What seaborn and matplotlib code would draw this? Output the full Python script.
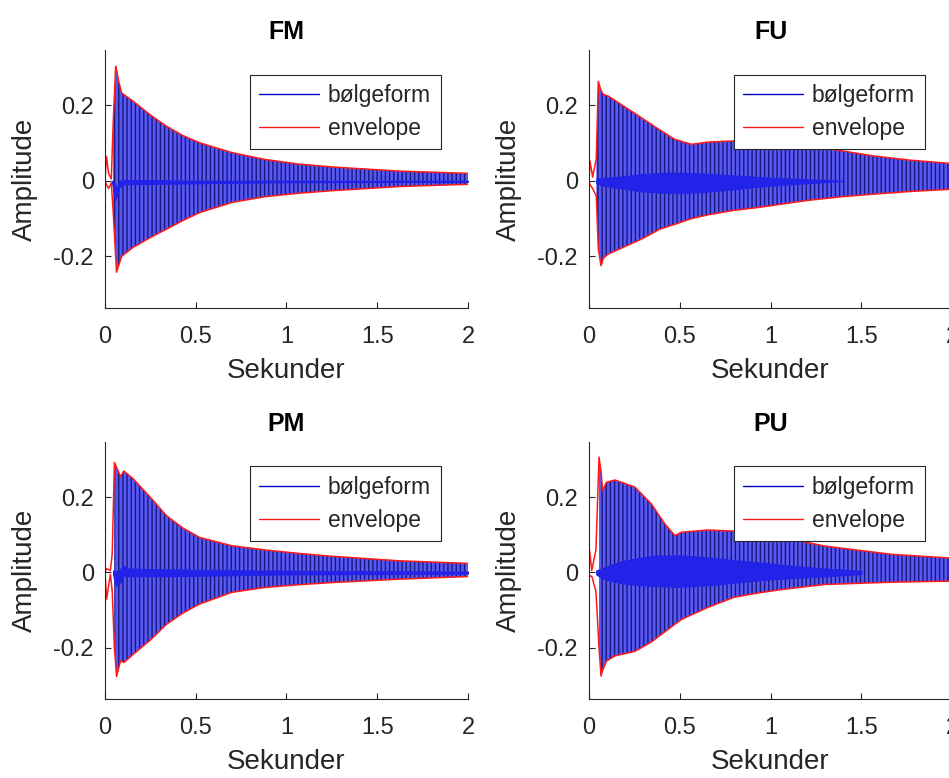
import numpy as np
import seaborn as sns
import matplotlib
matplotlib.use('Agg')
import matplotlib.pyplot as plt
from matplotlib.lines import Line2D

# envelope keypoints (seconds, amplitude)
fm_t     = [0.000, 0.008, 0.020, 0.035, 0.045, 0.059, 0.064, 0.075, 0.092, 0.156, 0.250, 0.339, 0.430, 0.522, 0.700, 0.880, 1.060, 1.250, 1.620, 2.000]
fm_upper = [0.000, 0.065, 0.020, 0.005, 0.150, 0.304, 0.295, 0.265, 0.233, 0.211, 0.175, 0.145, 0.120, 0.101, 0.075, 0.057, 0.045, 0.037, 0.026, 0.020]
fm_lower = [0.000, -0.010, -0.020, -0.005, -0.080, -0.200, -0.242, -0.225, -0.200, -0.176, -0.150, -0.128, -0.105, -0.084, -0.057, -0.042, -0.033, -0.026, -0.015, -0.009]
fm_core_t  = [0.040, 0.055, 0.065, 0.080, 0.100, 0.200, 0.500, 1.000, 2.000]
fm_core_hi = [0.000, -0.010, -0.020, 0.000, 0.002, 0.002, 0.000, 0.000, 0.000]
fm_core_lo = [-0.005, -0.050, -0.040, -0.015, -0.008, -0.008, -0.006, -0.003, -0.002]

fu_t     = [0.000, 0.005, 0.020, 0.040, 0.051, 0.066, 0.079, 0.106, 0.290, 0.390, 0.473, 0.564, 0.655, 0.800, 0.940, 1.200, 1.390, 1.570, 1.770, 2.000]
fu_upper = [0.000, 0.053, 0.010, 0.060, 0.264, 0.240, 0.229, 0.225, 0.167, 0.135, 0.110, 0.097, 0.103, 0.106, 0.100, 0.092, 0.080, 0.066, 0.055, 0.046]
fu_lower = [0.000, -0.010, -0.020, -0.040, -0.180, -0.225, -0.205, -0.194, -0.154, -0.128, -0.115, -0.100, -0.090, -0.078, -0.070, -0.052, -0.042, -0.035, -0.028, -0.022]
fu_core_t  = [0.040, 0.070, 0.150, 0.300, 0.450, 0.600, 0.800, 1.000, 1.200, 1.400]
fu_core_hi = [0.005, 0.008, 0.010, 0.018, 0.022, 0.020, 0.014, 0.008, 0.004, 0.000]
fu_core_lo = [-0.005, -0.012, -0.018, -0.028, -0.032, -0.030, -0.022, -0.012, -0.006, 0.000]

pm_t     = [0.000, 0.009, 0.030, 0.040, 0.052, 0.064, 0.086, 0.104, 0.156, 0.250, 0.339, 0.430, 0.522, 0.700, 0.880, 1.060, 1.250, 1.620, 2.000]
pm_upper = [0.000, 0.010, 0.005, 0.050, 0.293, 0.280, 0.255, 0.270, 0.249, 0.200, 0.151, 0.118, 0.093, 0.071, 0.060, 0.051, 0.043, 0.031, 0.024]
pm_lower = [0.000, -0.071, -0.005, -0.050, -0.200, -0.277, -0.235, -0.240, -0.218, -0.180, -0.138, -0.108, -0.084, -0.053, -0.040, -0.033, -0.027, -0.018, -0.011]
pm_core_t  = [0.045, 0.060, 0.080, 0.100, 0.130, 0.300, 0.600, 1.000, 2.000]
pm_core_hi = [0.005, 0.002, 0.005, 0.018, 0.010, 0.008, 0.006, 0.004, 0.002]
pm_core_lo = [-0.005, -0.035, -0.030, -0.008, -0.010, -0.010, -0.008, -0.005, -0.003]

pu_t     = [0.000, 0.003, 0.015, 0.038, 0.055, 0.066, 0.075, 0.096, 0.143, 0.253, 0.344, 0.418, 0.473, 0.510, 0.655, 0.800, 0.940, 1.070, 1.300, 1.670, 2.000]
pu_upper = [0.000, 0.058, 0.005, 0.060, 0.307, 0.270, 0.218, 0.240, 0.246, 0.227, 0.182, 0.129, 0.098, 0.107, 0.113, 0.110, 0.104, 0.093, 0.070, 0.048, 0.038]
pu_lower = [0.000, -0.010, -0.010, -0.050, -0.200, -0.276, -0.260, -0.236, -0.222, -0.210, -0.185, -0.158, -0.138, -0.125, -0.093, -0.066, -0.054, -0.045, -0.032, -0.026, -0.023]
pu_core_t  = [0.040, 0.070, 0.120, 0.200, 0.350, 0.500, 0.650, 0.800, 0.950, 1.100, 1.300, 1.500]
pu_core_hi = [0.005, 0.010, 0.020, 0.032, 0.044, 0.045, 0.040, 0.032, 0.026, 0.018, 0.010, 0.004]
pu_core_lo = [-0.005, -0.015, -0.022, -0.030, -0.036, -0.038, -0.034, -0.027, -0.020, -0.015, -0.010, -0.004]

titles = ['FM', 'FU', 'PM', 'PU']
onsets = [0.040, 0.040, 0.042, 0.040]
x_ticks = [0, 0.5, 1, 1.5, 2]
x_ticklabels = ['0', '0.5', '1', '1.5', '2']
y_ticks = [-0.2, 0, 0.2]
y_ticklabels = ['-0.2', '0', '0.2']

sns.set_theme(style='white')
plt.rcParams['font.family'] = ['Liberation Sans', 'DejaVu Sans']
plt.rcParams['hatch.color'] = '#18187e'
plt.rcParams['hatch.linewidth'] = 1.0

panels = [
    (fm_t, fm_upper, fm_lower, fm_core_t, fm_core_hi, fm_core_lo),
    (fu_t, fu_upper, fu_lower, fu_core_t, fu_core_hi, fu_core_lo),
    (pm_t, pm_upper, pm_lower, pm_core_t, pm_core_hi, pm_core_lo),
    (pu_t, pu_upper, pu_lower, pu_core_t, pu_core_hi, pu_core_lo),
]

# axes boxes in figure fractions (right column runs past the edge, like the original)
positions = [
    [0.1106, 0.6041, 0.3825, 0.3316],
    [0.6207, 0.6041, 0.3825, 0.3316],
    [0.1106, 0.1015, 0.3825, 0.3303],
    [0.6207, 0.1015, 0.3825, 0.3303],
]

fig = plt.figure(figsize=(9.49, 7.78), dpi=100)
dark = '#262626'

for i, (t, up, lo, ct, chi, clo) in enumerate(panels):
    ax = fig.add_axes(positions[i])
    t = np.array(t)
    # dense waveform -> hatched band between the envelopes
    ax.fill_between(t, lo, up, where=t >= onsets[i], facecolor='#5858f4',
                    edgecolor='#18187e', hatch='||||', linewidth=0)
    # slow component around zero
    ax.fill_between(ct, clo, chi, facecolor='#2222e8', edgecolor='#2222e8', linewidth=1.0)
    sns.lineplot(x=t, y=up, ax=ax, color='#ff1a1a', linewidth=1.1, estimator=None, sort=False)
    sns.lineplot(x=t, y=lo, ax=ax, color='#ff1a1a', linewidth=1.1, estimator=None, sort=False)

    ax.set_xlim(0, 2)
    ax.set_ylim(-0.337, 0.347)
    ax.set_xticks(x_ticks, x_ticklabels)
    ax.set_yticks(y_ticks, y_ticklabels)
    for s in ['top', 'right']:
        ax.spines[s].set_visible(False)
    for s in ['left', 'bottom']:
        ax.spines[s].set_color(dark)
        ax.spines[s].set_linewidth(0.8)
    ax.tick_params(axis='x', direction='in', length=4, width=0.8, colors=dark,
                   labelsize=17, pad=13, bottom=True)
    ax.tick_params(axis='y', direction='in', length=4, width=0.8, colors=dark,
                   labelsize=17, pad=8, left=True)
    ax.set_title(titles[i], fontsize=18, fontweight='bold', pad=8, color='black')
    ax.set_xlabel('Sekunder', fontsize=20, color=dark, labelpad=7)
    ax.set_ylabel('Amplitude', fontsize=20, color=dark, labelpad=11)

    handles = [Line2D([], [], color='#0000cc', lw=1.0), Line2D([], [], color='#ff1a1a', lw=1.0)]
    leg = ax.legend(handles, ['bølgeform', 'envelope'], loc='upper right',
                    bbox_to_anchor=(0.925, 0.905), fontsize=16.5, frameon=True,
                    fancybox=False, framealpha=1, edgecolor=dark, handlelength=2.6,
                    handletextpad=0.4, borderpad=0.42, labelspacing=0.42,
                    borderaxespad=0)
    leg.get_frame().set_linewidth(0.8)
    for txt in leg.get_texts():
        txt.set_color(dark)

fig.savefig('out.png', dpi=100)
